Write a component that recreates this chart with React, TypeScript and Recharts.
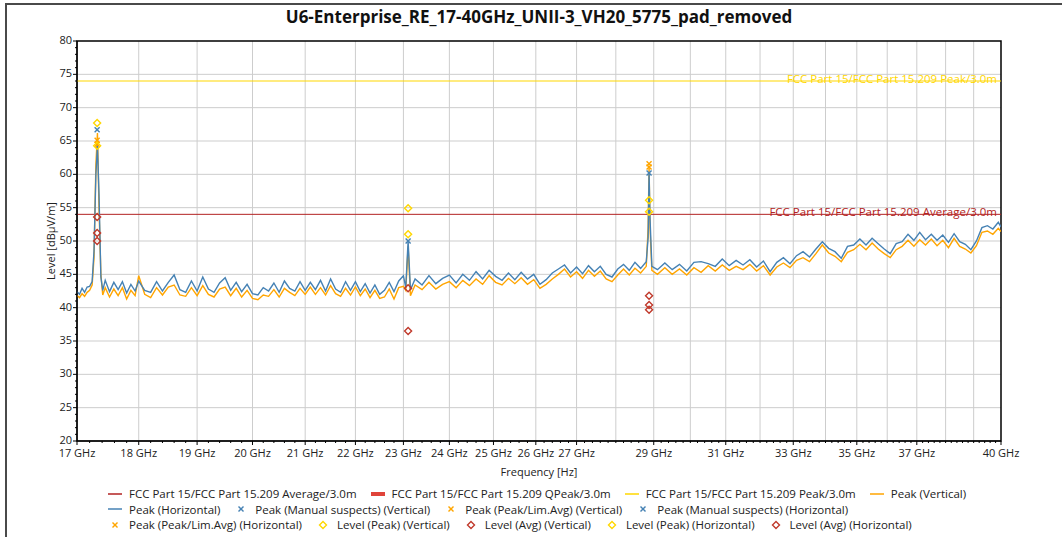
import { CartesianGrid, ComposedChart, Label, Line, ReferenceArea, ReferenceLine, Scatter, XAxis, YAxis } from 'recharts'

const FONT = '"Open Sans", "Noto Sans", sans-serif'

// sweep frequencies [GHz]
const FREQ_GHZ = [
  17.0, 17.04, 17.08, 17.12, 17.16, 17.2, 17.24, 17.27, 17.3, 17.325,
  17.35, 17.38, 17.41, 17.45, 17.52, 17.59, 17.66, 17.73, 17.8, 17.87,
  17.94, 18.0, 18.1, 18.2, 18.3, 18.4, 18.5, 18.6, 18.7, 18.8,
  18.9, 19.0, 19.1, 19.2, 19.3, 19.4, 19.5, 19.6, 19.7, 19.8,
  19.9, 20.0, 20.1, 20.2, 20.3, 20.4, 20.5, 20.6, 20.7, 20.8,
  20.9, 21.0, 21.1, 21.2, 21.3, 21.4, 21.5, 21.6, 21.7, 21.8,
  21.9, 22.0, 22.1, 22.2, 22.3, 22.4, 22.5, 22.6, 22.7, 22.8,
  22.9, 23.0, 23.05, 23.1, 23.15, 23.25, 23.4, 23.55, 23.7, 23.85,
  24.0, 24.15, 24.3, 24.45, 24.6, 24.75, 24.9, 25.05, 25.2, 25.35,
  25.5, 25.65, 25.8, 25.95, 26.1, 26.25, 26.4, 26.55, 26.7, 26.85,
  27.0, 27.15, 27.3, 27.45, 27.6, 27.75, 27.9, 28.05, 28.2, 28.35,
  28.5, 28.65, 28.8, 28.85, 28.875, 28.9, 28.95, 29.1, 29.3, 29.5,
  29.7, 29.9, 30.1, 30.3, 30.5, 30.7, 30.9, 31.1, 31.3, 31.5,
  31.7, 31.9, 32.1, 32.3, 32.5, 32.7, 32.9, 33.1, 33.3, 33.5,
  33.7, 33.9, 34.1, 34.3, 34.5, 34.7, 34.9, 35.1, 35.3, 35.5,
  35.7, 35.9, 36.1, 36.3, 36.5, 36.7, 36.9, 37.1, 37.3, 37.5,
  37.7, 37.9, 38.1, 38.3, 38.5, 38.7, 38.9, 39.1, 39.3, 39.5,
  39.7, 39.9, 40.0,
]

// Peak (Vertical) [dBµV/m]
const PEAK_V = [
  41.8, 41.5, 42.1, 41.7, 42.3, 42.6, 43.4, 47.5, 61.5, 66.2,
  55.0, 45.0, 41.9, 43.0, 41.6, 42.8, 41.8, 43.0, 41.3, 42.6,
  41.8, 44.8, 42.0, 41.5, 43.0, 41.9, 43.1, 43.4, 41.9, 41.7,
  43.0, 41.8, 43.3, 42.0, 41.6, 42.8, 43.1, 41.8, 42.9, 41.6,
  42.6, 41.4, 41.2, 41.9, 41.7, 42.7, 41.6, 42.9, 42.3, 41.8,
  42.9, 42.0, 43.1, 42.0, 43.0, 41.9, 43.3, 42.1, 41.7, 42.9,
  41.9, 43.1, 41.8, 42.8, 41.5, 42.6, 41.4, 41.6, 42.8, 41.3,
  43.0, 43.2, 42.6, 49.2, 41.8, 43.4, 42.7, 43.8, 42.8, 43.5,
  43.9, 43.0, 44.1, 43.3, 44.3, 43.5, 44.8, 43.8, 43.4, 44.4,
  43.6, 44.5, 43.5, 44.2, 42.9, 43.5, 44.3, 45.0, 45.8, 44.6,
  45.4, 44.4, 45.6, 44.7, 45.5, 44.3, 43.9, 44.9, 45.8, 44.9,
  45.9, 45.2, 46.2, 52.0, 61.2, 52.0, 45.6, 45.0, 46.0, 45.0,
  45.8, 44.9, 46.0, 45.3, 46.3, 45.5, 46.4, 45.6, 46.2, 45.7,
  46.5, 45.5, 46.3, 44.9, 46.1, 46.7, 46.0, 47.1, 47.5, 46.9,
  48.1, 49.4, 48.2, 47.7, 46.9, 48.3, 48.7, 49.5, 48.7, 49.7,
  48.8, 48.1, 47.5, 48.7, 49.2, 50.1, 49.2, 50.2, 49.4, 50.3,
  49.3, 50.1, 49.0, 50.4, 49.2, 48.8, 48.2, 49.3, 51.3, 51.5,
  51.0, 51.9, 51.4,
]

// Peak (Horizontal) [dBµV/m]
const PEAK_H = [
  42.4, 42.0, 42.9, 42.3, 43.1, 43.2, 43.9, 48.5, 60.0, 64.3,
  57.0, 44.6, 42.6, 44.1, 42.4, 43.8, 42.7, 43.9, 42.2, 43.5,
  42.5, 44.0, 42.6, 42.3, 43.9, 42.5, 43.8, 44.9, 42.7, 42.3,
  44.0, 42.5, 44.6, 42.8, 42.3, 43.7, 44.5, 42.6, 43.8, 42.4,
  43.5, 42.1, 41.9, 43.0, 42.5, 43.7, 42.3, 44.0, 42.9, 42.5,
  43.9, 42.6, 43.8, 42.7, 44.1, 42.5, 44.3, 42.8, 42.3, 43.9,
  42.6, 43.9, 42.4, 43.6, 42.2, 43.4, 42.0, 42.6, 43.8, 42.4,
  44.0, 44.8, 43.0, 50.0, 42.7, 44.3, 43.4, 44.8, 43.6, 44.4,
  44.9, 43.7, 45.0, 44.1, 45.4, 44.3, 45.6, 44.7, 44.1, 45.2,
  44.2, 45.3, 44.3, 45.0, 43.5, 44.2, 45.2, 45.8, 46.4, 45.2,
  46.1, 45.1, 46.3, 45.4, 46.2, 45.0, 44.6, 45.8, 46.5, 45.6,
  46.8, 45.9, 46.9, 50.5, 60.3, 53.5, 46.2, 45.7, 46.7, 45.7,
  46.5, 45.5, 46.8, 46.9, 46.6, 46.2, 47.3, 46.3, 47.1, 46.4,
  47.2, 46.1, 47.0, 45.4, 46.8, 47.5, 46.6, 47.8, 48.4, 47.6,
  48.8, 49.9, 48.9, 48.4, 47.4, 49.2, 49.4, 50.3, 49.4, 50.4,
  49.6, 48.8, 48.1, 49.6, 49.9, 51.0, 50.1, 51.3, 50.2, 51.0,
  50.1, 50.9, 49.8, 51.1, 49.9, 49.5, 48.7, 50.0, 52.0, 52.3,
  51.8, 52.8, 52.1,
]

// final measurement results [GHz, dBµV/m]
const MANUAL_V = [[17.32, 66.7]]
const MANUAL_H = [[23.1, 50.0], [28.875, 60.2]]
const PEAKLIM_V = [[17.32, 65.1], [28.875, 61.6]]
const PEAKLIM_H = [[17.32, 64.5], [28.875, 61.1]]
const LEVEL_PK_V = [[17.32, 67.7], [23.1, 54.9], [28.875, 56.1]]
const LEVEL_PK_H = [[17.32, 64.3], [23.1, 51.0], [28.875, 54.4]]
const LEVEL_AV_V = [[17.32, 53.6], [23.1, 42.9], [28.875, 41.8]]
const LEVEL_AV_H = [[17.32, 51.2], [17.32, 50.0], [23.1, 36.5], [28.875, 40.4], [28.875, 39.7]]

const LIMIT_AVG = 54
const LIMIT_PEAK = 74

const MAJOR_TICKS = [17, 18, 19, 20, 21, 22, 23, 24, 25, 26, 27, 29, 31, 33, 35, 37, 40]
const GRID_GHZ = [18, 19, 20, 21, 22, 23, 24, 25, 26, 27, 28, 29, 30, 31, 32, 33, 34, 35, 36, 37, 38, 39]
const Y_GRID = [25, 30, 35, 40, 45, 50, 55, 60, 65, 70, 75]

const X_TICKS: number[] = []
for (let i = 170; i <= 400; i += 2) X_TICKS.push(i / 10)
const Y_TICKS: number[] = []
for (let i = 20; i <= 80; i++) Y_TICKS.push(i)

const C_AVG = '#b22222'
const C_QP = '#e0443a'
const C_PK = '#ffd700'
const C_V = '#ffa500'
const C_H = '#4682b4'
const C_LVL_AV = '#c0392b'

const data = FREQ_GHZ.map((f, i) => ({ f, v: PEAK_V[i], h: PEAK_H[i] }))
const pts = (arr: number[][]) => arr.map(([f, y]) => ({ f, y }))

const XTick = (props: any) => {
  const { x, y, payload } = props
  const v = payload.value
  const major = MAJOR_TICKS.includes(v)
  return (
    <g>
      <line x1={x} x2={x} y1={y} y2={y + (major ? 4 : 2)} stroke="#000" />
      {major && (
        <text x={x} y={y + 16} textAnchor="middle" fontSize={11} fill="#222">
          {v} GHz
        </text>
      )}
    </g>
  )
}

const YTick = (props: any) => {
  const { x, y, payload } = props
  const v = payload.value
  const major = v % 5 === 0
  return (
    <g>
      <line x1={x - (major ? 4 : 2)} x2={x} y1={y} y2={y} stroke="#000" />
      {major && (
        <text x={x - 5} y={y + 3} textAnchor="end" fontSize={11} fill="#222">
          {v}
        </text>
      )}
    </g>
  )
}

const Cross = (color: string) => (props: any) => {
  const { cx, cy } = props
  return (
    <g stroke={color} strokeWidth={1.4}>
      <line x1={cx - 2.5} y1={cy - 2.5} x2={cx + 2.5} y2={cy + 2.5} />
      <line x1={cx - 2.5} y1={cy + 2.5} x2={cx + 2.5} y2={cy - 2.5} />
    </g>
  )
}

const Diamond = (color: string) => (props: any) => {
  const { cx, cy } = props
  const r = 3.5
  return (
    <polygon
      points={`${cx},${cy - r} ${cx + r},${cy} ${cx},${cy + r} ${cx - r},${cy}`}
      fill="none"
      stroke={color}
      strokeWidth={1.4}
    />
  )
}

type LegendItem = { label: string; kind: 'line' | 'thick' | 'cross' | 'diamond'; color: string }

const LEGEND_ROWS: LegendItem[][] = [
  [
    { label: 'FCC Part 15/FCC Part 15.209 Average/3.0m', kind: 'line', color: C_AVG },
    { label: 'FCC Part 15/FCC Part 15.209 QPeak/3.0m', kind: 'thick', color: C_QP },
    { label: 'FCC Part 15/FCC Part 15.209 Peak/3.0m', kind: 'line', color: C_PK },
    { label: 'Peak (Vertical)', kind: 'line', color: C_V },
  ],
  [
    { label: 'Peak (Horizontal)', kind: 'line', color: C_H },
    { label: 'Peak (Manual suspects) (Vertical)', kind: 'cross', color: C_H },
    { label: 'Peak (Peak/Lim.Avg) (Vertical)', kind: 'cross', color: C_V },
    { label: 'Peak (Manual suspects) (Horizontal)', kind: 'cross', color: C_H },
  ],
  [
    { label: 'Peak (Peak/Lim.Avg) (Horizontal)', kind: 'cross', color: C_V },
    { label: 'Level (Peak) (Vertical)', kind: 'diamond', color: C_PK },
    { label: 'Level (Avg) (Vertical)', kind: 'diamond', color: C_LVL_AV },
    { label: 'Level (Peak) (Horizontal)', kind: 'diamond', color: C_PK },
    { label: 'Level (Avg) (Horizontal)', kind: 'diamond', color: C_LVL_AV },
  ],
]

function LegendIcon({ kind, color }: { kind: LegendItem['kind']; color: string }) {
  return (
    <svg width={14} height={10} style={{ display: 'block' }}>
      {kind === 'line' && <line x1={0} x2={14} y1={5} y2={5} stroke={color} strokeWidth={1.5} />}
      {kind === 'thick' && <line x1={0} x2={14} y1={5} y2={5} stroke={color} strokeWidth={4} />}
      {kind === 'cross' && Cross(color)({ cx: 7, cy: 5 })}
      {kind === 'diamond' && Diamond(color)({ cx: 7, cy: 5 })}
    </svg>
  )
}

function ChartLegend() {
  return (
    <div style={{ position: 'absolute', left: 108, top: 486, fontSize: 11.5, color: '#222' }}>
      {LEGEND_ROWS.map((row, ri) => (
        <div key={ri} style={{ display: 'flex', alignItems: 'center', height: 15.5, whiteSpace: 'nowrap' }}>
          {row.map((it) => (
            <div key={it.label} style={{ display: 'flex', alignItems: 'center', marginRight: 14 }}>
              <LegendIcon kind={it.kind} color={it.color} />
              <span style={{ marginLeft: 7 }}>{it.label}</span>
            </div>
          ))}
        </div>
      ))}
    </div>
  )
}

export default function App() {
  return (
    <div
      style={{
        position: 'absolute',
        left: 0,
        top: 0,
        width: 1062,
        height: 537,
        overflow: 'hidden',
        background: '#fff',
        fontFamily: FONT,
      }}
    >
      <div
        style={{
          position: 'absolute',
          left: 5,
          top: 3,
          width: 1200,
          height: 700,
          border: '2px solid #4a4a4a',
        }}
      />
      <div
        style={{
          position: 'absolute',
          left: 77,
          top: 6,
          width: 924,
          textAlign: 'center',
          fontSize: 17,
          fontWeight: 700,
          lineHeight: '22px',
          color: '#111',
        }}
      >
        U6-Enterprise_RE_17-40GHz_UNII-3_VH20_5775_pad_removed
      </div>
      <div style={{ position: 'absolute', left: 0, top: 0 }}>
        <ComposedChart
          width={1062}
          height={490}
          data={data}
          margin={{ top: 41, right: 61, bottom: 14, left: 25 }}
          style={{ fontFamily: FONT }}
        >
          <CartesianGrid stroke="#cdcdcd" verticalValues={GRID_GHZ} horizontalValues={Y_GRID} />
          <XAxis
            dataKey="f"
            type="number"
            scale="log"
            domain={[17, 40]}
            allowDataOverflow
            ticks={X_TICKS}
            interval={0}
            tick={<XTick />}
            tickSize={0}
            tickMargin={0}
            tickLine={false}
            height={35}
            axisLine={{ stroke: '#000' }}
          >
            <Label value="Frequency [Hz]" position="insideBottom" offset={0} fontSize={11} fill="#222" />
          </XAxis>
          <YAxis
            type="number"
            domain={[20, 80]}
            allowDataOverflow
            ticks={Y_TICKS}
            interval={0}
            tick={<YTick />}
            tickSize={0}
            tickMargin={0}
            tickLine={false}
            width={52}
            axisLine={{ stroke: '#000' }}
          >
            <Label value="Level [dBµV/m]" angle={-90} position="center" fontSize={11} fill="#222" />
          </YAxis>
          <ReferenceArea x1={17} x2={40} y1={20} y2={80} fill="none" fillOpacity={0} stroke="#000" strokeWidth={1.5} />
          <ReferenceLine
            y={LIMIT_PEAK}
            stroke={C_PK}
            strokeWidth={1.2}
            label={{ value: 'FCC Part 15/FCC Part 15.209 Peak/3.0m', position: 'insideRight', offset: 4, dy: -2, fill: C_PK, fontSize: 11.5 }}
          />
          <ReferenceLine
            y={LIMIT_AVG}
            stroke={C_AVG}
            strokeWidth={1}
            label={{ value: 'FCC Part 15/FCC Part 15.209 Average/3.0m', position: 'insideRight', offset: 4, dy: -2, fill: C_AVG, fontSize: 11.5 }}
          />
          <Line dataKey="v" stroke={C_V} strokeWidth={1.4} dot={false} isAnimationActive={false} />
          <Line dataKey="h" stroke={C_H} strokeWidth={1.4} dot={false} isAnimationActive={false} />
          <Scatter data={pts(LEVEL_AV_V)} dataKey="y" shape={Diamond(C_LVL_AV)} isAnimationActive={false} />
          <Scatter data={pts(LEVEL_AV_H)} dataKey="y" shape={Diamond(C_LVL_AV)} isAnimationActive={false} />
          <Scatter data={pts(PEAKLIM_V)} dataKey="y" shape={Cross(C_V)} isAnimationActive={false} />
          <Scatter data={pts(PEAKLIM_H)} dataKey="y" shape={Cross(C_V)} isAnimationActive={false} />
          <Scatter data={pts(MANUAL_V)} dataKey="y" shape={Cross(C_H)} isAnimationActive={false} />
          <Scatter data={pts(MANUAL_H)} dataKey="y" shape={Cross(C_H)} isAnimationActive={false} />
          <Scatter data={pts(LEVEL_PK_V)} dataKey="y" shape={Diamond(C_PK)} isAnimationActive={false} />
          <Scatter data={pts(LEVEL_PK_H)} dataKey="y" shape={Diamond(C_PK)} isAnimationActive={false} />
        </ComposedChart>
      </div>
      <ChartLegend />
    </div>
  )
}
